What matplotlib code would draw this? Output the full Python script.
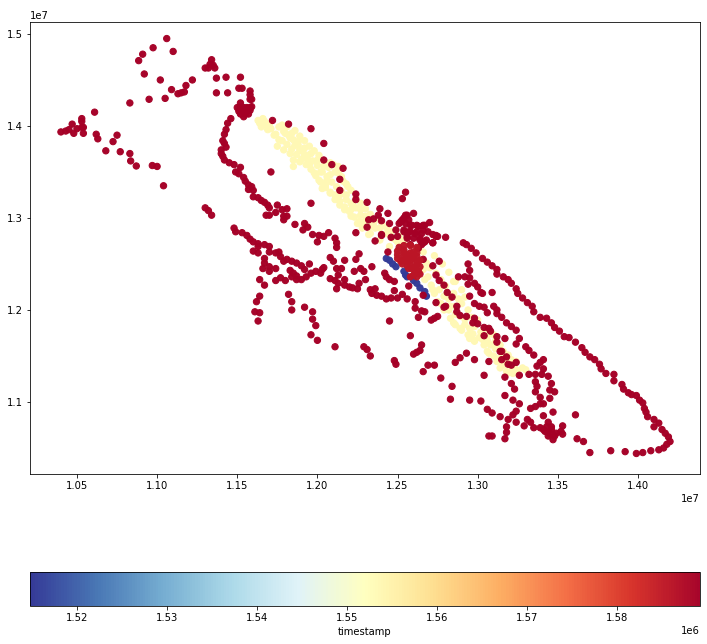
import numpy as np
import matplotlib
import matplotlib.pyplot as plt
from matplotlib.colors import Normalize

matplotlib.use('Agg')

# positions are (easting, northing) in units of 1e7
far_west = [(1.040,1.3935),(1.043,1.3945),(1.045,1.396),(1.047,1.402),(1.048,1.392),(1.050,1.397),(1.053,1.3985),
            (1.054,1.3985),(1.054,1.392),(1.053,1.405),(1.053,1.408),(1.061,1.415),(1.062,1.391),(1.063,1.386),
            (1.075,1.390),(1.0725,1.383),(1.068,1.373),(1.077,1.372),(1.083,1.370),(1.0835,1.362),(1.087,1.3565),
            (1.097,1.357),(1.100,1.356),(1.104,1.335)]
north_arc = [(1.106,1.495),(1.0975,1.485),(1.091,1.478),(1.0885,1.471),(1.110,1.481),(1.092,1.4565),(1.102,1.450),
             (1.109,1.4395),(1.118,1.444),(1.122,1.450),(1.113,1.435),(1.115,1.436),(1.117,1.437),(1.105,1.430),
             (1.095,1.429),(1.083,1.425)]
north_cluster = [(1.134,1.472),(1.133,1.467),(1.135,1.466),(1.130,1.463),(1.132,1.463),(1.136,1.463),(1.137,1.452),
                 (1.143,1.453),(1.152,1.453),(1.151,1.441),(1.153,1.441),(1.158,1.438),(1.158,1.434),(1.158,1.429),
                 (1.159,1.429),(1.137,1.436),(1.144,1.436),(1.152,1.425),(1.150,1.420),(1.152,1.420),(1.154,1.420),
                 (1.156,1.420),(1.158,1.420),(1.159,1.421),(1.151,1.416),(1.154,1.416),(1.156,1.416),(1.158,1.417),
                 (1.152,1.413),(1.155,1.413),(1.157,1.413),(1.154,1.410)]
west_track = [(1.146,1.408),(1.144,1.403),(1.143,1.396),(1.142,1.391),(1.141,1.384),(1.142,1.381),(1.143,1.377),
              (1.140,1.374),(1.140,1.370),(1.141,1.367),(1.142,1.363),(1.145,1.360),(1.148,1.358),(1.152,1.355),
              (1.149,1.350),(1.151,1.348),(1.154,1.344),(1.155,1.340),(1.157,1.336),(1.159,1.334),(1.157,1.331),
              (1.160,1.330),(1.160,1.323),(1.163,1.322),(1.165,1.319),(1.167,1.317),(1.169,1.314),(1.170,1.311),
              (1.175,1.314),(1.181,1.310),(1.178,1.309),(1.174,1.306),(1.168,1.303),(1.170,1.303),(1.179,1.302),
              (1.181,1.302),(1.179,1.298),(1.186,1.293),(1.192,1.294),(1.194,1.290),(1.191,1.287),(1.197,1.282),
              (1.201,1.281),(1.204,1.280),(1.207,1.284),(1.211,1.278),(1.212,1.273),(1.212,1.268),(1.200,1.274),
              (1.130,1.311),(1.132,1.308),(1.134,1.303)]
band_strays = [(1.172,1.406),(1.182,1.402),(1.196,1.397),(1.204,1.381),(1.204,1.363),(1.209,1.358),(1.216,1.354),
               (1.214,1.342),(1.214,1.330),(1.224,1.326),(1.224,1.320),(1.196,1.316),(1.231,1.317),(1.171,1.350),
               (1.232,1.298),(1.231,1.290),(1.224,1.284),(1.253,1.321),(1.255,1.328),(1.235,1.299),(1.239,1.310),
               (1.238,1.303),(1.240,1.297),(1.244,1.305),(1.245,1.294),(1.236,1.275),(1.240,1.281)]
mid_track = [(1.148,1.289),(1.149,1.285),(1.153,1.284),(1.156,1.281),(1.158,1.277),(1.160,1.274),(1.163,1.272),
             (1.167,1.271),(1.170,1.269),(1.163,1.269),(1.160,1.264),(1.163,1.262),(1.170,1.263),(1.174,1.262),
             (1.176,1.263),(1.177,1.258),(1.181,1.255),(1.179,1.253),(1.184,1.253),(1.187,1.251),(1.190,1.248),
             (1.195,1.250),(1.192,1.244),(1.199,1.242),(1.202,1.240),(1.204,1.246),(1.203,1.244),(1.183,1.243),
             (1.185,1.240),(1.187,1.237),(1.190,1.233),(1.193,1.236),(1.184,1.236),(1.187,1.233),(1.196,1.240),
             (1.167,1.256),(1.167,1.251),(1.166,1.245),(1.170,1.247),(1.174,1.245),(1.170,1.242),(1.164,1.233),
             (1.167,1.227),(1.174,1.232),(1.177,1.235),(1.180,1.232)]
south_spurs = [(1.164,1.215),(1.162,1.209),(1.161,1.198),(1.164,1.197),(1.163,1.188),(1.182,1.217),(1.184,1.209),
               (1.184,1.200),(1.192,1.203),(1.197,1.198),(1.197,1.190),(1.199,1.183),(1.196,1.173),(1.200,1.167),
               (1.211,1.160),(1.229,1.160),(1.231,1.157),(1.233,1.150),(1.248,1.145),(1.249,1.141),(1.265,1.162),
               (1.264,1.156),(1.262,1.154),(1.260,1.152),(1.269,1.140),(1.273,1.140),(1.266,1.133),(1.277,1.126),
               (1.284,1.117),(1.258,1.172),(1.245,1.188)]
lower_mid = [(1.208,1.257),(1.210,1.253),(1.217,1.254),(1.224,1.255),(1.226,1.261),(1.212,1.245),(1.215,1.245),
             (1.213,1.238),(1.223,1.242),(1.227,1.245),(1.229,1.242),(1.234,1.247),(1.208,1.234),(1.211,1.232),
             (1.213,1.229),(1.217,1.233),(1.217,1.227),(1.220,1.225),(1.222,1.224),(1.226,1.229),(1.225,1.223),
             (1.212,1.223),(1.230,1.233),(1.242,1.240),(1.243,1.236),(1.245,1.233),(1.248,1.231),(1.233,1.222),
             (1.236,1.223),(1.234,1.218),(1.237,1.216),(1.240,1.215),(1.243,1.212),(1.246,1.213),(1.248,1.221),
             (1.253,1.217),(1.256,1.212),(1.257,1.226),(1.250,1.213),(1.261,1.209),(1.261,1.202),(1.263,1.192),
             (1.265,1.199),(1.267,1.198),(1.271,1.189),(1.273,1.191),(1.275,1.193),(1.244,1.263),(1.266,1.216)]
east_track = [(1.291,1.273),(1.293,1.271),(1.296,1.267),(1.299,1.262),(1.303,1.256),(1.306,1.252),(1.309,1.248),
              (1.312,1.244),(1.312,1.239),(1.316,1.236),(1.319,1.233),(1.321,1.229),(1.324,1.223),(1.325,1.218),
              (1.328,1.213),(1.331,1.208),(1.334,1.204),(1.335,1.198),(1.339,1.192),(1.343,1.191),(1.346,1.186),
              (1.348,1.181),(1.351,1.177),(1.354,1.171),(1.357,1.170),(1.361,1.165),(1.365,1.159),(1.367,1.154),
              (1.370,1.149),(1.373,1.146),(1.376,1.141),(1.377,1.136),(1.380,1.131),(1.385,1.130),(1.385,1.123),
              (1.390,1.119),(1.391,1.114),(1.394,1.110),(1.396,1.108),(1.399,1.107),(1.401,1.102),(1.403,1.099),
              (1.404,1.093),(1.405,1.089),(1.406,1.084),(1.410,1.081),(1.413,1.077),(1.410,1.073),(1.415,1.070),
              (1.417,1.066),(1.419,1.062),(1.420,1.057),(1.418,1.054),(1.416,1.050),(1.413,1.048),(1.408,1.047),
              (1.403,1.045),(1.399,1.044),(1.392,1.046),(1.383,1.047),(1.370,1.045),(1.366,1.057),(1.362,1.060),
              (1.361,1.086)]
inner_east = [(1.274,1.280),(1.280,1.279),(1.266,1.273),(1.272,1.273),(1.276,1.253),(1.272,1.248),(1.266,1.255),
              (1.274,1.238),(1.276,1.232),(1.279,1.227),(1.281,1.219),(1.284,1.214),(1.279,1.203),(1.280,1.204),
              (1.274,1.208),(1.294,1.250),(1.295,1.243),(1.288,1.236),(1.292,1.236),(1.295,1.235),(1.294,1.228),
              (1.298,1.229),(1.300,1.225),(1.302,1.219),(1.303,1.218),(1.309,1.219),(1.295,1.215),(1.298,1.207),
              (1.301,1.204),(1.304,1.203),(1.306,1.197),(1.310,1.204),(1.312,1.200),(1.312,1.196),(1.315,1.192),
              (1.318,1.186),(1.321,1.182),(1.324,1.178),(1.298,1.191),(1.297,1.186),(1.300,1.185),(1.304,1.181),
              (1.307,1.180),(1.308,1.177),(1.304,1.172),(1.293,1.193),(1.287,1.204),(1.287,1.198),(1.289,1.194),
              (1.312,1.171),(1.312,1.165),(1.317,1.169),(1.326,1.169),(1.324,1.163),(1.330,1.160),(1.332,1.156),
              (1.335,1.151),(1.314,1.155),(1.315,1.155),(1.318,1.149),(1.315,1.146),(1.319,1.141),(1.321,1.140),
              (1.324,1.143)]
south_east = [(1.341,1.146),(1.339,1.143),(1.337,1.139),(1.341,1.136),(1.340,1.130),(1.336,1.130),(1.332,1.130),
              (1.326,1.129),(1.317,1.127),(1.304,1.129),(1.307,1.144),(1.298,1.146),(1.293,1.153),(1.289,1.148),
              (1.286,1.143),(1.283,1.103),(1.295,1.102),(1.302,1.101),(1.306,1.092),(1.309,1.088),(1.314,1.084),
              (1.319,1.081),(1.322,1.086),(1.324,1.090),(1.326,1.098),(1.322,1.102),(1.317,1.107),(1.321,1.120),
              (1.323,1.114),(1.336,1.122),(1.337,1.117),(1.336,1.111),(1.344,1.128),(1.346,1.120),(1.345,1.113),
              (1.348,1.111),(1.345,1.104),(1.339,1.105),(1.341,1.098),(1.339,1.098),(1.336,1.095),(1.333,1.093),
              (1.341,1.085),(1.347,1.089),(1.318,1.073),(1.318,1.067),(1.317,1.060),(1.307,1.063),(1.309,1.063),
              (1.324,1.078),(1.329,1.074),(1.331,1.081),(1.333,1.078),(1.335,1.072),(1.339,1.072),(1.341,1.070),
              (1.344,1.078),(1.343,1.073),(1.345,1.066),(1.347,1.059),(1.349,1.066),(1.353,1.074),(1.352,1.068),
              (1.353,1.065),(1.346,1.073),(1.344,1.063),(1.346,1.070),(1.348,1.063),(1.342,1.068)]
city_north = [(1.256,1.303),(1.254,1.300),(1.260,1.305),(1.252,1.296),(1.255,1.294),(1.258,1.292),(1.262,1.292),
              (1.266,1.292),(1.270,1.295),(1.249,1.287),(1.254,1.287),(1.257,1.285),(1.261,1.283),(1.265,1.283),
              (1.269,1.285),(1.274,1.281),(1.250,1.280),(1.246,1.279),(1.267,1.274),(1.265,1.271),(1.256,1.280),
              (1.260,1.278),(1.264,1.278),(1.258,1.271),(1.263,1.267),(1.255,1.303),(1.253,1.298),(1.257,1.298),
              (1.251,1.294),(1.259,1.292),(1.263,1.291),(1.267,1.292),(1.254,1.285),(1.258,1.285),(1.262,1.285),
              (1.266,1.287),(1.256,1.278),(1.264,1.276),(1.272,1.282),(1.275,1.280),(1.268,1.276),(1.272,1.273),
              (1.240,1.282)]
city_core = [(1.254,1.265),(1.250,1.260),(1.256,1.260),(1.260,1.263),(1.252,1.253),(1.256,1.253),(1.260,1.256),
             (1.264,1.254),(1.257,1.245),(1.259,1.245),(1.262,1.249),(1.263,1.242),(1.260,1.238),(1.258,1.236),
             (1.262,1.236),(1.254,1.258),(1.258,1.249),(1.262,1.262),(1.251,1.268),(1.254,1.270),(1.258,1.270),
             (1.262,1.268),(1.250,1.264),(1.254,1.262),(1.258,1.262),(1.258,1.258),(1.262,1.258),(1.250,1.256),
             (1.254,1.254),(1.258,1.254),(1.262,1.252),(1.253,1.250),(1.256,1.248),(1.260,1.246),(1.264,1.247),
             (1.261,1.241),(1.264,1.239)]
early_track = [(1.243,1.256),(1.245,1.254),(1.247,1.250),(1.249,1.247),(1.254,1.242),(1.255,1.238),(1.256,1.236),
               (1.260,1.232),(1.262,1.229),(1.264,1.224),(1.267,1.220),(1.268,1.215)]
pale_north = [(1.164,1.403),(1.166,1.408),(1.168,1.401),(1.169,1.396),(1.173,1.390),(1.176,1.385),(1.178,1.401),
              (1.180,1.392),(1.183,1.387),(1.186,1.379),(1.189,1.374),(1.192,1.367),(1.195,1.358),(1.198,1.349),
              (1.201,1.341),(1.203,1.332),(1.205,1.336),(1.208,1.327),(1.211,1.320),(1.214,1.314),(1.217,1.309),
              (1.221,1.302),(1.225,1.294),(1.228,1.289),(1.232,1.282),(1.181,1.399),(1.184,1.392),(1.188,1.383),
              (1.192,1.376),(1.196,1.370),(1.200,1.363),(1.204,1.356),(1.208,1.347),(1.210,1.358),(1.213,1.349),
              (1.216,1.340),(1.219,1.334),(1.218,1.325),(1.222,1.314),(1.227,1.309),(1.230,1.302),(1.235,1.294),
              (1.239,1.289),(1.175,1.378),(1.179,1.374),(1.183,1.370),(1.185,1.363),(1.185,1.356),(1.189,1.361),
              (1.194,1.363),(1.202,1.350),(1.206,1.341),(1.214,1.325),(1.221,1.309),(1.208,1.360),(1.213,1.356),
              (1.233,1.291),(1.243,1.283),(1.247,1.278),(1.250,1.274),(1.233,1.283),(1.239,1.276),(1.245,1.269),
              (1.249,1.276),(1.171,1.397),(1.174,1.391),(1.178,1.384),(1.181,1.380),(1.184,1.375),(1.187,1.369),
              (1.190,1.364),(1.193,1.358),(1.196,1.353),(1.199,1.346),(1.202,1.339),(1.205,1.333),(1.208,1.328),
              (1.211,1.325),(1.214,1.318),(1.217,1.312),(1.220,1.307),(1.223,1.301),(1.226,1.296),(1.229,1.291),
              (1.176,1.399),(1.179,1.394),(1.182,1.390),(1.185,1.385),(1.188,1.379),(1.191,1.372),(1.194,1.368),
              (1.197,1.362),(1.200,1.357),(1.203,1.350),(1.206,1.345),(1.209,1.339),(1.212,1.334),(1.215,1.329),
              (1.218,1.320),(1.221,1.316),(1.224,1.311),(1.227,1.303),(1.230,1.297),(1.233,1.296),(1.236,1.289),
              (1.186,1.395),(1.189,1.389),(1.192,1.384),(1.195,1.378),(1.198,1.373),(1.201,1.368),(1.204,1.362),
              (1.207,1.355),(1.211,1.350),(1.215,1.345),(1.218,1.337),(1.221,1.330),(1.224,1.322),(1.227,1.316),
              (1.230,1.310),(1.233,1.304),(1.236,1.298),(1.240,1.295),(1.243,1.290),(1.246,1.285),(1.251,1.280),
              (1.254,1.275),(1.163,1.406),(1.165,1.399),(1.167,1.405),(1.170,1.402)]
pale_south = [(1.266,1.263),(1.273,1.259),(1.278,1.250),(1.282,1.241),(1.285,1.231),(1.290,1.222),(1.268,1.251),
              (1.266,1.244),(1.269,1.236),(1.271,1.227),(1.273,1.218),(1.275,1.209),(1.279,1.200),(1.283,1.191),
              (1.286,1.184),(1.290,1.178),(1.294,1.173),(1.298,1.167),(1.304,1.162),(1.307,1.153),(1.267,1.233),
              (1.272,1.222),(1.277,1.207),(1.285,1.186),(1.289,1.180),(1.295,1.169),(1.298,1.166),(1.306,1.155),
              (1.312,1.144),(1.318,1.133),(1.322,1.131),(1.328,1.137),(1.324,1.144),(1.319,1.151),(1.314,1.162),
              (1.310,1.173),(1.305,1.180),(1.300,1.189),(1.294,1.200),(1.290,1.207),(1.285,1.218),(1.286,1.231),
              (1.295,1.180),(1.289,1.193),(1.283,1.204),(1.306,1.167),(1.316,1.140),(1.323,1.137),(1.270,1.246),
              (1.274,1.240),(1.277,1.233),(1.280,1.226),(1.276,1.222),(1.279,1.215),(1.282,1.212),(1.282,1.200),
              (1.286,1.204),(1.288,1.212),(1.292,1.214),(1.286,1.195),(1.292,1.190),(1.296,1.192),(1.298,1.182),
              (1.302,1.176),(1.292,1.184),(1.297,1.174),(1.301,1.170),(1.303,1.168),(1.308,1.162),(1.311,1.158),
              (1.310,1.150),(1.314,1.148),(1.317,1.146),(1.320,1.140),(1.325,1.134),(1.314,1.137),(1.320,1.132),
              (1.306,1.172),(1.311,1.166),(1.316,1.155),(1.321,1.146),(1.330,1.135)]

# timestamps per group
early_ts = 1.5155e6
pale_ts = 1.5535e6
core_ts = 1.5860e6
late_ts = 1.5890e6
ts_min = 1.5148e6
ts_max = 1.58925e6

late_groups = [far_west, north_arc, north_cluster, west_track, band_strays, mid_track, south_spurs,
               lower_mid, east_track, inner_east, south_east, city_north]

draw_order = [(early_track, early_ts), (pale_north, pale_ts), (pale_south, pale_ts)]
draw_order += [(group, late_ts) for group in late_groups]
draw_order += [(city_core, core_ts)]

xs, ys, ts = [], [], []
for group, stamp in draw_order:
    xs += [p[0] * 1e7 for p in group]
    ys += [p[1] * 1e7 for p in group]
    ts += [stamp] * len(group)

fig = plt.figure(figsize=(707 / 72, 644 / 72), dpi=72, facecolor='white')
ax = fig.add_axes([30 / 707, 170 / 644, 670 / 707, 452 / 644])
cax = fig.add_axes([30 / 707, 38 / 644, 670 / 707, 34 / 644])

points = ax.scatter(xs, ys, c=ts, cmap='RdYlBu_r', norm=Normalize(ts_min, ts_max), s=40, alpha=0.98)
ax.set_xlim(1.0207e7, 1.4387e7)
ax.set_ylim(1.0217e7, 1.513e7)

cbar = fig.colorbar(points, cax=cax, orientation='horizontal')
cbar.set_label('timestamp')

fig.savefig('out.png', dpi=72)
plt.close(fig)
